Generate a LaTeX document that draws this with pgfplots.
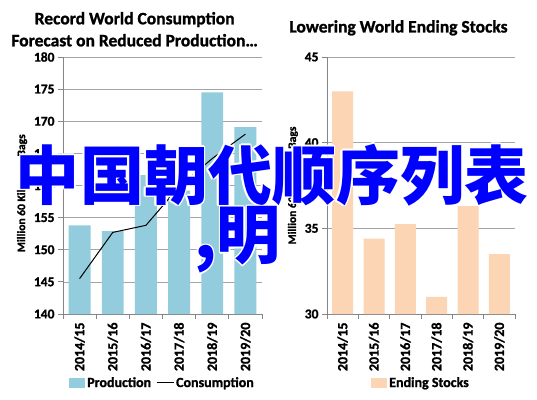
\documentclass[border=0pt]{standalone}
\usepackage{pgfplots}
\pgfplotsset{compat=1.18}
\usepackage{fontspec}
\setmainfont{Carlito}[BoldFeatures={FakeBold=1.2}]
\newfontfamily\cjk{Noto Sans CJK SC}
\definecolor{prod}{RGB}{147,205,221}
\definecolor{stock}{RGB}{252,213,181}
\definecolor{gridc}{RGB}{165,165,165}
\definecolor{axc}{RGB}{134,134,134}
\definecolor{ovl}{RGB}{0,0,255}

\pgfplotstableread{
x prod cons
0 153.8 145.5
1 152.9 152.7
2 161.6 153.8
3 159.2 159.8
4 174.5 164.2
5 169.1 168.0
}\leftdata

\pgfplotstableread{
x stocks
0 43.0
1 34.4
2 35.25
3 31.0
4 36.3
5 33.5
}\rightdata

\pgfplotsset{
 common/.style={
  scale only axis, height=257pt,
  axis x line*=bottom, axis y line*=left,
  axis line style={draw=axc, line width=0.8pt},
  ymajorgrids, grid style={draw=gridc, line width=0.6pt},
  xmin=-0.5, xmax=5.5,
  xtick={0,1,2,3,4,5},
  xticklabels={2014/15,2015/16,2016/17,2017/18,2018/19,2019/20},
  major x tick style={draw=none},
  minor xtick={-0.5,0.5,1.5,2.5,3.5,4.5,5.5},
  tick align=outside, major tick length=5pt, minor tick length=5pt,
  every tick/.style={draw=axc, line width=0.8pt},
  xticklabel style={rotate=90, anchor=east, font=\fontsize{14}{16}\selectfont\bfseries},
  yticklabel style={font=\fontsize{13.5}{15}\selectfont\bfseries},
  /pgf/number format/assume math mode=true,
  ylabel={Million 60 Kilogram Bags},
  ylabel style={font=\fontsize{11.5}{13}\selectfont\bfseries},
  title style={font=\fontsize{17.5}{22}\selectfont\bfseries, align=center, anchor=south},
  legend style={draw=none, fill=none, at={(0.5,-0.268)}, anchor=center, legend columns=-1,
    font=\fontsize{14}{16}\selectfont\bfseries,
    /tikz/every even column/.append style={column sep=3pt}},
  clip=false,
 },
 barleg/.style={legend image code/.code={\fill[##1] (0pt,-5pt) rectangle (16pt,5pt);}},
 lineleg/.style={legend image code/.code={\draw[##1] (0pt,0pt) -- (17pt,0pt);}},
}

\begin{document}
\begin{tikzpicture}[x=1pt,y=1pt]
\path[use as bounding box, fill=white] (0,0) rectangle (537,399);

\begin{axis}[common, width=199pt, at={(63pt,85pt)}, anchor=south west,
  ymin=140, ymax=180, ytick={140,145,...,180},
  ylabel style={at={(ticklabel cs:0.47)}},
  title={Record World Consumption\\Forecast on Reduced Production…},
  title style={at={(axis description cs:0.36,1)}, yshift=1pt}]
\addplot[ybar, bar width=0.66, fill=prod, draw=none, barleg] table[x=x, y=prod] {\leftdata};
\addlegendentry{Production}
\addplot[sharp plot, black, line width=1pt, mark=none, lineleg] table[x=x, y=cons] {\leftdata};
\addlegendentry{Consumption}
\end{axis}

\begin{axis}[common, width=188pt, at={(327pt,85pt)}, anchor=south west,
  ymin=30, ymax=45, ytick={30,35,40,45},
  title={Lowering World Ending Stocks},
  title style={at={(axis description cs:0.38,1)}, yshift=12pt}]
\addplot[ybar, bar width=0.67, fill=stock, draw=none, barleg] table[x=x, y=stocks] {\rightdata};
\addlegendentry{Ending Stocks}
\end{axis}

% overlay text
\foreach \dx/\dy in {1.6/0,-1.6/0,0/1.6,0/-1.6,1.1/1.1,-1.1/1.1,1.1/-1.1,-1.1/-1.1}{
  \node[white, font=\cjk\bfseries\fontsize{64}{70}\selectfont, inner sep=0pt] at (272+\dx,224+\dy) {中国朝代顺序列表};
  \node[white, font=\cjk\bfseries\fontsize{64}{70}\selectfont, inner sep=0pt, anchor=east] at (281+\dx,159+\dy) {,明};
}
\node[ovl, font=\cjk\bfseries\fontsize{64}{70}\selectfont, inner sep=0pt] at (272,224) {中国朝代顺序列表};
\node[ovl, font=\cjk\bfseries\fontsize{64}{70}\selectfont, inner sep=0pt, anchor=east] at (281,159) {,明};
\end{tikzpicture}
\end{document}
